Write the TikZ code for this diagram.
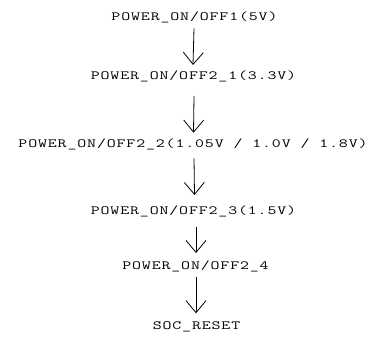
\documentclass[tikz,border=0pt]{standalone}
\usepackage{graphicx}
\usepackage{fontspec}
\setmonofont[LetterSpace=5]{Latin Modern Mono}
\usetikzlibrary{arrows.meta}
\newcommand{\widetxt}[1]{\scalebox{1.39}[1]{#1}}
\begin{document}
\begin{tikzpicture}[x=1pt,y=-1pt,
  lbl/.style={font=\ttfamily\fontsize{12.5}{12.5}\selectfont, inner sep=0pt, anchor=center},
  arr/.style={-{Straight Barb[length=12pt,width=20pt]}, line width=0.8pt}]
\useasboundingbox (0,0) rectangle (369,338);
\node[lbl] (t1) at (194.5,17.5) {\widetxt{POWER\_ON/OFF1(5V)}};
\node[lbl] (t2) at (193.5,76) {\widetxt{POWER\_ON/OFF2\_1(3.3V)}};
\node[lbl] (t3) at (193,144) {\widetxt{POWER\_ON/OFF2\_2(1.05V / 1.0V / 1.8V)}};
\node[lbl] (t4) at (193.5,211) {\widetxt{POWER\_ON/OFF2\_3(1.5V)}};
\node[lbl] (t5) at (195.5,266) {\widetxt{POWER\_ON/OFF2\_4}};
\node[lbl] (t6) at (196.5,327) {\widetxt{SOC\_RESET}};
\draw[arr] ([yshift=-10.8pt,xshift=-0.5pt]t1.center) -- ([yshift=11pt,xshift=-0.5pt]t2.center);
\draw[arr] ([yshift=-20pt,xshift=0.5pt]t2.center) -- ([yshift=11.3pt,xshift=0.5pt]t3.center);
\draw[arr] ([yshift=-14.3pt,xshift=1pt]t3.center) -- ([yshift=16pt,xshift=1pt]t4.center);
\draw[arr] ([yshift=-15.7pt,xshift=2.5pt]t4.center) -- ([yshift=13pt,xshift=0.5pt]t5.center);
\draw[arr] ([yshift=-11.3pt,xshift=0.5pt]t5.center) -- ([yshift=13.7pt,xshift=-0.5pt]t6.center);
\end{tikzpicture}
\end{document}
